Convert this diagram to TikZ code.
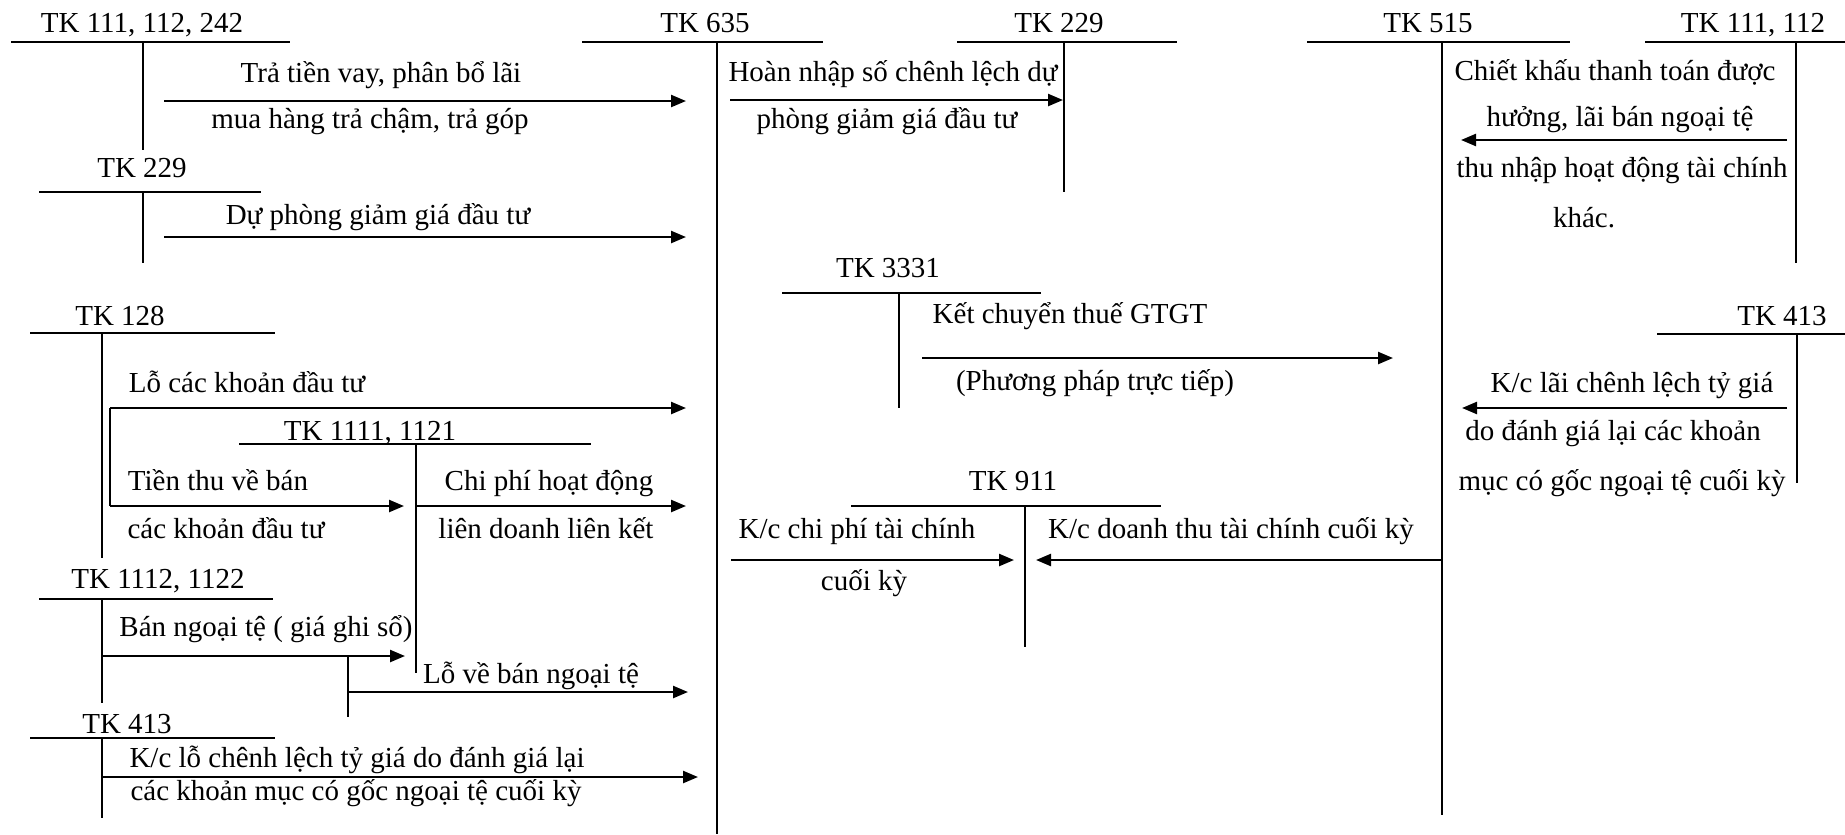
\documentclass[tikz,border=0pt]{standalone}
\usepackage{fontspec}
\setmainfont{Liberation Serif}
\usetikzlibrary{arrows.meta}
\tikzset{
  hdr/.style={anchor=base, inner sep=0pt, font=\fontsize{11.6pt}{14pt}\selectfont},
  lbl/.style={anchor=base, inner sep=0pt, font=\fontsize{11.6pt}{14pt}\selectfont},
  tline/.style={line width=0.95pt, draw=black},
  arr/.style={line width=0.95pt, draw=black, -{Triangle[length=6pt,width=4.8pt]}},
}
\newcommand\TAcct[9]{%
  \node[hdr] (#1) at (#3,#4) {#2};
  \coordinate (#1-l) at (#6,#5);
  \coordinate (#1-r) at (#7,#5);
  \coordinate (#1-t) at (#8,#5);
  \coordinate (#1-b) at (#8,#9);
  \draw[tline] (#1-l) -- (#1-r);
  \draw[tline] (#1-t) -- (#1-b);
}
\begin{document}
\begin{tikzpicture}[x=0.4pt, y=-0.4pt]
\useasboundingbox (0,0) rectangle (1845,834);
% T accounts
\TAcct{tkA}{TK 111, 112, 242}{142}{32}{42}{11}{290}{143}{150}
\TAcct{tkB}{TK 229}{142}{177}{192}{39}{261}{143}{263}
\TAcct{tkC}{TK 635}{705}{32}{42}{582}{823}{717}{834}
\TAcct{tkD}{TK 229}{1059}{32}{42}{957}{1177}{1064}{192}
\TAcct{tkE}{TK 515}{1428}{32}{42}{1307}{1570}{1442}{815}
\TAcct{tkF}{TK 111, 112}{1753}{32}{42}{1645}{1845}{1796}{263}
\TAcct{tkG}{TK 3331}{888}{277}{293}{782}{1041}{899}{408}
\TAcct{tkH}{TK 128}{120}{325}{333}{30}{275}{102}{558}
\TAcct{tkI}{TK 1111, 1121}{370}{440}{444}{239}{591}{416}{673}
\TAcct{tkJ}{TK 413}{1782}{325}{334}{1657}{1845}{1797}{483}
\TAcct{tkK}{TK 911}{1013}{490}{506}{851}{1161}{1025}{647}
\TAcct{tkL}{TK 1112, 1122}{158}{588}{599}{39}{273}{102}{703}
\TAcct{tkM}{TK 413}{127}{733}{738}{30}{275}{102}{818}

% Arrow 1
\coordinate (a1s) at (164,101); \coordinate (a1e) at (686,101);
\draw[arr] (a1s) -- (a1e);
\node[lbl] (l1a) at (381,82) {Trả tiền vay, phân bổ lãi};
\node[lbl] (l1b) at (370,128) {mua hàng trả chậm, trả góp};
% Arrow 2
\coordinate (a2s) at (164,237); \coordinate (a2e) at (686,237);
\draw[arr] (a2s) -- (a2e);
\node[lbl] (l2a) at (378,224) {Dự phòng giảm giá đầu tư};
% Arrow 3
\coordinate (a3s) at (730,100); \coordinate (a3e) at (1063,100);
\draw[arr] (a3s) -- (a3e);
\node[lbl] (l3a) at (893,81) {Hoàn nhập số chênh lệch dự};
\node[lbl] (l3b) at (887,128) {phòng giảm giá đầu tư};
% Arrow 4
\coordinate (a4s) at (1787,140); \coordinate (a4e) at (1461,140);
\draw[arr] (a4s) -- (a4e);
\node[lbl] (l4a) at (1615,80) {Chiết khấu thanh toán được};
\node[lbl] (l4b) at (1620,126) {hưởng, lãi bán ngoại tệ};
\node[lbl] (l4c) at (1622,177) {thu nhập hoạt động tài chính};
\node[lbl] (l4d) at (1584,227) {khác.};
% Arrow 5
\coordinate (a5s) at (922,358); \coordinate (a5e) at (1393,358);
\draw[arr] (a5s) -- (a5e);
\node[lbl] (l5a) at (1070,323) {Kết chuyển thuế GTGT};
\node[lbl] (l5b) at (1095,390) {(Phương pháp trực tiếp)};
% Arrow 6, 7 (TK 128 branch)
\coordinate (a6s) at (110,408); \coordinate (a6e) at (686,408);
\coordinate (a7s) at (110,506); \coordinate (a7e) at (404,506);
\draw[tline] (a6s) -- (a7s);
\draw[arr] (a6s) -- (a6e);
\draw[arr] (a7s) -- (a7e);
\node[lbl] (l6a) at (247,392) {Lỗ các khoản đầu tư};
\node[lbl] (l7a) at (218,490) {Tiền thu về bán};
\node[lbl] (l7b) at (226,538) {các khoản đầu tư};
% Arrow 8
\coordinate (a8e) at (686,506);
\draw[arr] (tkI-t |- a7s) -- (a8e);
\node[lbl] (l8a) at (549,490) {Chi phí hoạt động};
\node[lbl] (l8b) at (546,538) {liên doanh liên kết};
% Arrow 9
\coordinate (a9s) at (1787,408); \coordinate (a9e) at (1462,408);
\draw[arr] (a9s) -- (a9e);
\node[lbl] (l9a) at (1632,392) {K/c lãi chênh lệch tỷ giá};
\node[lbl] (l9b) at (1613,440) {do đánh giá lại các khoản};
\node[lbl] (l9c) at (1622,490) {mục có gốc ngoại tệ cuối kỳ};
% Arrows 10, 11 (TK 911)
\coordinate (a10s) at (731,560); \coordinate (a10e) at (1014,560);
\draw[arr] (a10s) -- (a10e);
\node[lbl] (l10a) at (857,538) {K/c chi phí tài chính};
\node[lbl] (l10b) at (864,590) {cuối kỳ};
\coordinate (a11e) at (1036,560);
\draw[arr] (tkE-t |- a10s) -- (a11e);
\node[lbl] (l11a) at (1231,538) {K/c doanh thu tài chính cuối kỳ};
% Arrow 12, 13 (TK 1112, 1122)
\coordinate (a12s) at (102,656); \coordinate (a12e) at (405,656);
\draw[arr] (a12s) -- (a12e);
\node[lbl] (l12a) at (266,636) {Bán ngoại tệ ( giá ghi sổ)};
\coordinate (a13t) at (348,656); \coordinate (a13b) at (348,717);
\coordinate (a13s) at (348,692); \coordinate (a13e) at (688,692);
\draw[tline] (a13t) -- (a13b);
\draw[arr] (a13s) -- (a13e);
\node[lbl] (l13a) at (531,683) {Lỗ về bán ngoại tệ};
% Arrow 14 (TK 413 left)
\coordinate (a14s) at (102,777); \coordinate (a14e) at (698,777);
\draw[arr] (a14s) -- (a14e);
\node[lbl] (l14a) at (357,767) {K/c lỗ chênh lệch tỷ giá do đánh giá lại};
\node[lbl] (l14b) at (356,800) {các khoản mục có gốc ngoại tệ cuối kỳ};
\end{tikzpicture}
\end{document}
